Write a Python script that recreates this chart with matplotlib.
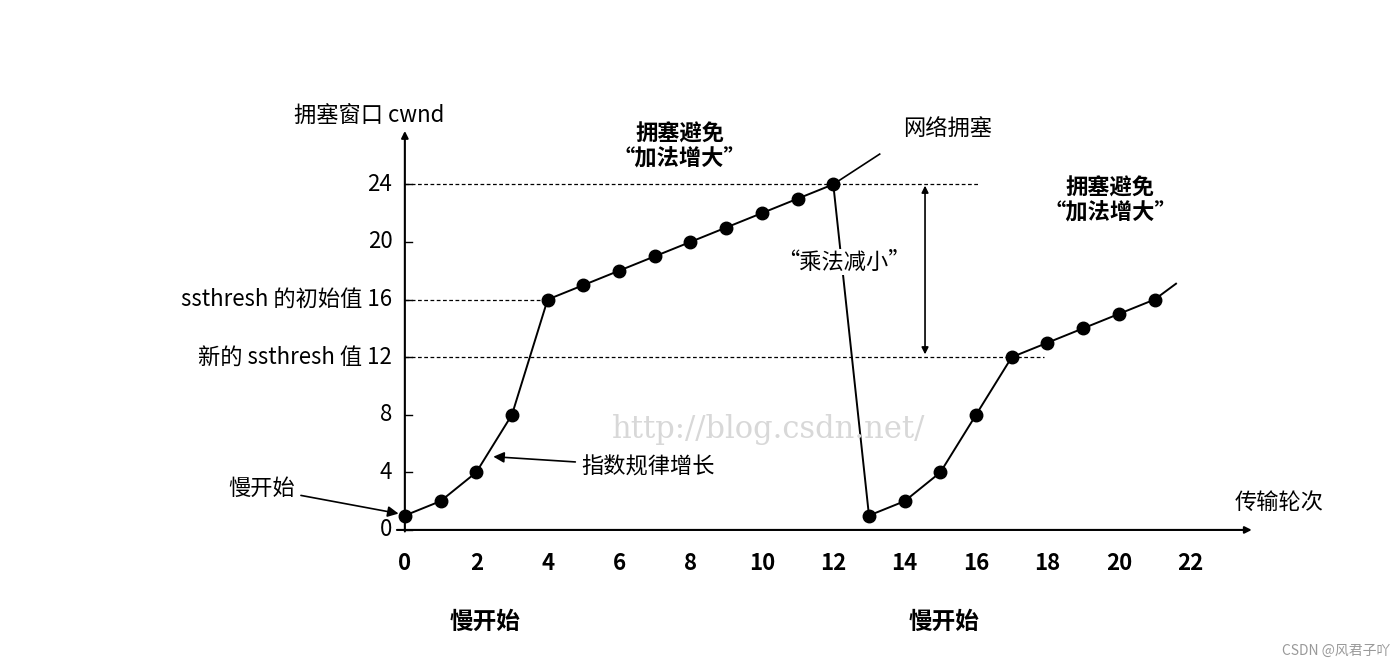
import matplotlib.pyplot as plt

plt.rcParams['font.family'] = ['Noto Sans CJK SC', 'DejaVu Sans']

# ── Data ─────────────────────────────────────
rounds_a = list(range(0, 13))
cwnd_a = [1, 2, 4, 8, 16, 17, 18, 19, 20, 21, 22, 23, 24]
rounds_b = list(range(13, 22))
cwnd_b = [1, 2, 4, 8, 12, 13, 14, 15, 16]
x_ticks = list(range(0, 24, 2))
y_ticks = [0, 4, 8, 20, 24]
y_special = [(16, "ssthresh 的初始值 16"), (12, "新的 ssthresh 值 12")]

fig = plt.figure(figsize=(13.97, 6.63), dpi=100)
ax = fig.add_axes([0, 0, 1, 1])
ax.set_xlim(-11.34, 27.79)
ax.set_ylim(-9.24, 36.8)
ax.axis("off")

# ── Axes with arrows ─────────────────────────
ax.annotate("", xy=(23.8, 0), xytext=(-0.3, 0),
            arrowprops=dict(arrowstyle="-|>", color="black", lw=1.5))
ax.annotate("", xy=(0, 27.9), xytext=(0, -0.3),
            arrowprops=dict(arrowstyle="-|>", color="black", lw=1.5))

for t in x_ticks:
    ax.text(t, -2.3, str(t), ha="center", va="center", fontsize=16, fontweight="bold")
for t in y_ticks:
    ax.text(-0.35, t, str(t), ha="right", va="center", fontsize=16)
    ax.plot([0, 0.2], [t, t], color="black", lw=1)
for t, lab in y_special:
    ax.text(-0.35, t, lab, ha="right", va="center", fontsize=16)
    ax.plot([0, 0.2], [t, t], color="black", lw=1)

# ── Dashed reference lines ───────────────────
ax.plot([0, 16.1], [24, 24], ls=(0, (3, 2)), color="black", lw=0.9)
ax.plot([0, 4], [16, 16], ls=(0, (3, 2)), color="black", lw=0.9)
ax.plot([0, 17.9], [12, 12], ls=(0, (3, 2)), color="black", lw=0.9)

# ── Curve ────────────────────────────────────
xs = rounds_a + rounds_b
ys = cwnd_a + cwnd_b
ax.plot(xs + [21.6], ys + [17.1], color="black", lw=1.4)
ax.plot(xs, ys, "o", color="black", markersize=9)

# ── Annotations ──────────────────────────────
ax.text(-1, 28.8, "拥塞窗口 cwnd", ha="center", va="center", fontsize=16)
ax.text(24.5, 1.9, "传输轮次", ha="center", va="center", fontsize=16)
ax.text(2.25, -6.4, "慢开始", ha="center", va="center", fontsize=17, fontweight="bold")
ax.text(15.1, -6.4, "慢开始", ha="center", va="center", fontsize=17, fontweight="bold")
ax.annotate("慢开始", xy=(-0.1, 1.1), xytext=(-4, 2.9), ha="center", va="center",
            fontsize=16, arrowprops=dict(arrowstyle="-|>", color="black", lw=1.2))
ax.annotate("指数规律增长", xy=(2.4, 5.1), xytext=(6.8, 4.4), ha="center", va="center",
            fontsize=16, arrowprops=dict(arrowstyle="-|>", color="black", lw=1.2))
ax.text(7.7, 26.6, "拥塞避免\n\u201c加法增大\u201d", ha="center", va="center",
        fontsize=16, fontweight="bold", linespacing=1.1)
ax.text(19.75, 22.9, "拥塞避免\n\u201c加法增大\u201d", ha="center", va="center",
        fontsize=16, fontweight="bold", linespacing=1.1)
ax.plot([12, 13.3], [24, 26.1], color="black", lw=1.2)
ax.text(15.2, 27.8, "网络拥塞", ha="center", va="center", fontsize=16)
ax.annotate("", xy=(14.57, 24.1), xytext=(14.57, 12),
            arrowprops=dict(arrowstyle="<|-|>", color="black", lw=1.2))
ax.text(12.3, 18.6, "\u201c乘法减小\u201d", ha="center", va="center", fontsize=16,
        bbox=dict(facecolor="white", edgecolor="none", pad=1))
ax.text(10.2, 7, "http://blog.csdn.net/", ha="center", va="center", fontsize=22,
        color="#d8d8d8", family="DejaVu Serif")
ax.text(27.6, -8.4, "CSDN @风君子吖", ha="right", va="center", fontsize=10, color="#999999")

fig.savefig("out.png", dpi=100)
